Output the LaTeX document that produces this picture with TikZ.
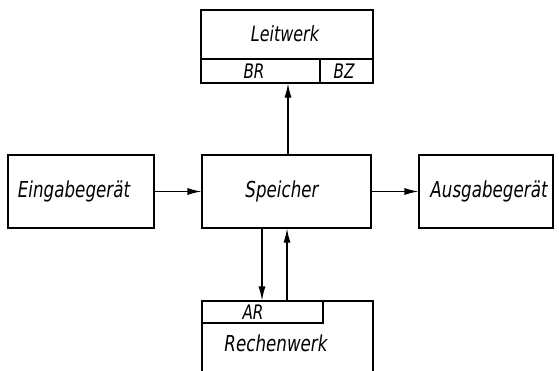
\documentclass[tikz,border=0pt]{standalone}
\usepackage{fontspec}
\newfontfamily\lbl{DejaVu Sans}[FakeStretch=0.76]
\usetikzlibrary{arrows.meta}
\tikzset{
  big/.style={font=\lbl\itshape\fontsize{22}{22}\selectfont},
  small/.style={font=\lbl\itshape\fontsize{20}{20}\selectfont},
  blk/.style={draw, line width=1.2pt, inner sep=0pt},
  cell/.style={draw, line width=1.2pt, inner sep=0pt, small},
  arr/.style={line width=1.2pt, -{Latex[length=14pt,width=7pt]}}
}
\begin{document}
\begin{tikzpicture}[x=1pt, y=-1pt]
\useasboundingbox (0,0) rectangle (559,370);
\clip (0,0) rectangle (559,370);
% input, memory, output row
\node[blk, minimum width=146pt, minimum height=73pt] (ein) at (81,191.5) {};
\node[blk, minimum width=169pt, minimum height=73pt] (sp) at (286.5,191.5) {};
\node[blk, minimum width=134pt, minimum height=73pt] (aus) at (486,191.5) {};
\node[big] (eint) at (74,191) {Eingabeger\"at};
\node[big] (spt) at (282,191) {Speicher};
\node[big] (aust) at (489,191) {Ausgabeger\"at};
% control unit with its two registers
\node[cell, minimum width=172pt, minimum height=73pt] (lw) at (287,46.5) {};
\node[cell, minimum width=119pt, minimum height=24pt] (br) at (260.5,71) {};
\node[cell, minimum width=53pt, minimum height=24pt] (bz) at (346.5,71) {};
\node[small] (brt) at (254,71) {BR};
\node[small] (bzt) at (344,71) {BZ};
\node[font=\lbl\itshape\fontsize{21}{21}\selectfont] (lwt) at (285,34) {Leitwerk};
% arithmetic unit with accumulator register
\node[cell, minimum width=171pt, minimum height=90pt] (rw) at (287.5,346) {};
\node[cell, minimum width=121pt, minimum height=22pt] (ar) at (262.5,312) {};
\node[small] (art) at (253,312) {AR};
\node[big] (rwt) at (276,343) {Rechenwerk};
% connectors
\coordinate (xup) at (288,0);
\coordinate (xdn) at (262,0);
\coordinate (xrt) at (287,0);
\draw[arr] (ein) -- (sp);
\draw[arr] (sp) -- (aus);
\draw[arr] (sp.north -| xup) -- (br.south -| xup);
\draw[arr] (sp.south -| xdn) -- (ar.north -| xdn);
\draw[arr] (ar.north -| xrt) -- (sp.south -| xrt);
\end{tikzpicture}
\end{document}
